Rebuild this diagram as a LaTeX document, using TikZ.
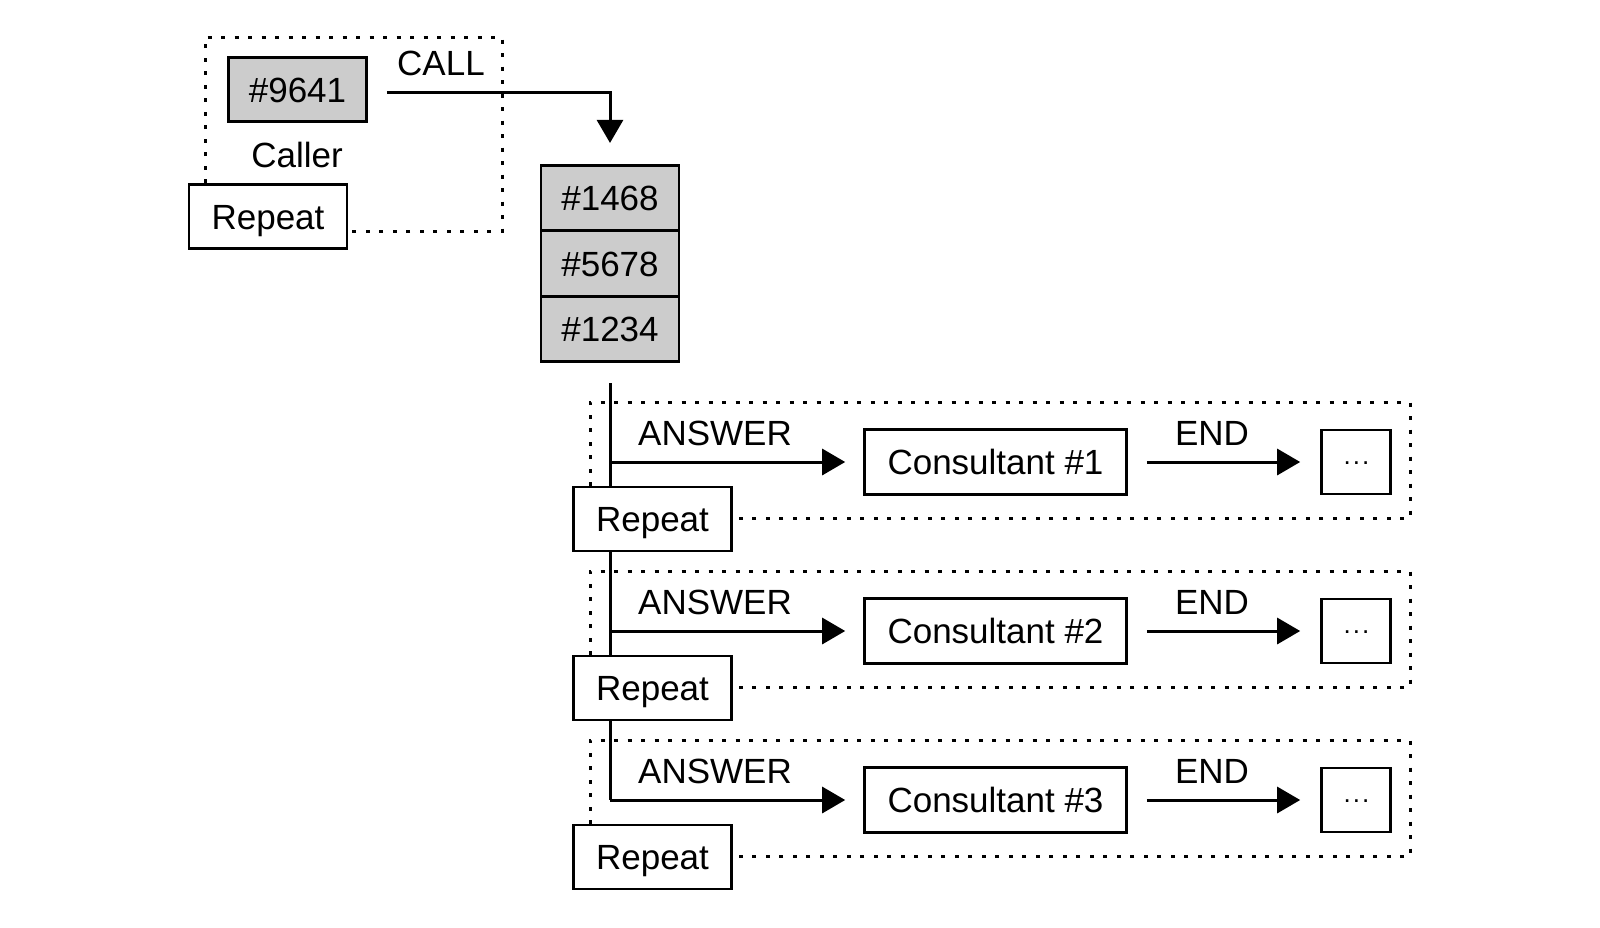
\documentclass[tikz,border=0pt]{standalone}
\usepackage{fontspec}
\setmainfont{Liberation Sans}
\usetikzlibrary{arrows.meta,calc}
\definecolor{boxgray}{RGB}{204,204,204}
\begin{document}
\begin{tikzpicture}[x=1pt,y=-1pt,
  every node/.style={font=\fontsize{35}{40}\selectfont, inner sep=0pt},
  boxed/.style={draw, line width=2.6pt, fill=white, text height=25pt, text depth=0pt},
  graybox/.style={boxed, fill=boxgray, minimum width=138pt, minimum height=64pt},
  stackbox/.style={boxed, fill=boxgray, minimum width=138pt, minimum height=65.5pt},
  repbox/.style={boxed, minimum width=158pt, minimum height=64pt},
  conbox/.style={boxed, minimum width=262pt, minimum height=65pt},
  dotbox/.style={boxed, minimum width=69pt, minimum height=64pt},
  lbl/.style={anchor=base},
  dotline/.style={line width=3pt, dash pattern=on 4pt off 9.5pt},
  arr/.style={line width=3pt, -{Triangle[length=23pt,width=26pt]}},
  solid line/.style={line width=3pt}
]
\useasboundingbox (0,0) rectangle (1600,927);

% ---- top caller frame
\draw[dotline] (205,183) -- (205,37) -- (502,37) -- (502,231) -- (352,231);
\node[graybox] (caller) at (297.5,89.5) {\#9641};
\node[lbl] (callerlbl) at (297,167) {Caller};
\node[repbox] (rep0) at (268,216.5) {Repeat};
\node[lbl] (calllbl) at (441,75) {CALL};

% ---- stack
\node[stackbox] (s1) at (610,198) {\#1468};
\node[stackbox] (s2) at (610,263.5) {\#5678};
\node[stackbox] (s3) at (610,329) {\#1234};

\coordinate (cstart) at ([xshift=19pt,yshift=-2.5pt]caller.east);
\draw[arr] (cstart) -| ([yshift=21pt]s1.north);

% ---- rows
\foreach \i/\dy in {1/0,2/169,3/338}{
  \draw[dotline] (590,486+\dy) -- (590,402+\dy) -- (1410,402+\dy) -- (1410,518+\dy) -- (737,518+\dy);
}
\coordinate (vtop) at ([yshift=-20pt]s3.south);
\foreach \i/\dy in {1/0,2/169,3/338}{
  \node[conbox] (con\i) at (995.5,462+\dy) {Consultant \#\i};
  \node[dotbox] (dots\i) at (1356,462+\dy) {\raisebox{10.5pt}{\fontsize{26}{30}\selectfont\kern1pt.\kern2pt.\kern2pt.}};
  \node[lbl] (ans\i) at (715,445+\dy) {ANSWER};
  \node[lbl] (end\i) at (1212,445+\dy) {END};
}
\draw[solid line] (vtop) -- (vtop |- con3.west);
\foreach \i in {1,2,3}{
  \draw[arr] (vtop |- con\i.west) -- ([xshift=-18pt]con\i.west);
  \draw[arr] ([xshift=19pt]con\i.east) -- ([xshift=-20pt]dots\i.west);
}
\foreach \i/\dy in {1/0,2/169,3/338}{
  \node[repbox] (rep\i) at (652.5,519+\dy) {Repeat};
}
\end{tikzpicture}
\end{document}
